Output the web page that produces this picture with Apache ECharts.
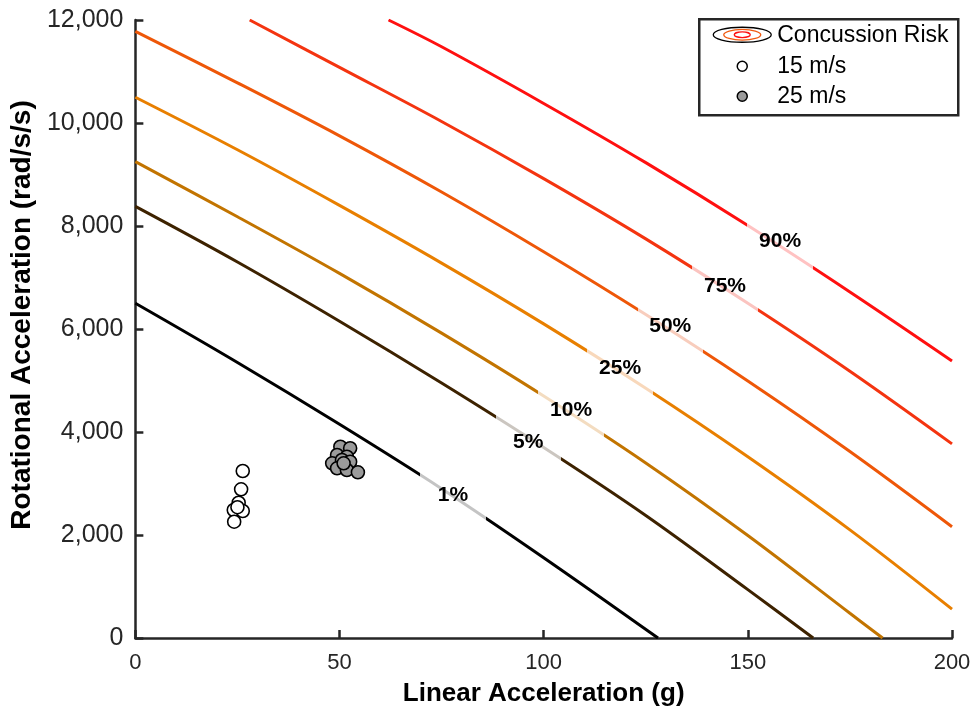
<!DOCTYPE html>
<html>
<head>
<meta charset="utf-8">
<script src="https://cdn.jsdelivr.net/npm/echarts@6/dist/echarts.min.js"></script>
<style>
  html, body { margin: 0; padding: 0; background: #ffffff; }
  #chart { width: 976px; height: 713px; }
</style>
</head>
<body>
<div id="chart"></div>
<script>
// Iso-risk contour levels, each traced as [linear g, rotational rad/s/s] points
const riskLevels = ['1%', '5%', '10%', '25%', '50%', '75%', '90%'];

const risk1  = [[0, 6500], [25, 5350], [50, 4150], [75, 2900], [100, 1560], [128, 0]];
const risk5  = [[0, 8380], [25, 7300], [50, 6150], [75, 4950], [100, 3700], [125, 2380], [150, 940], [166, 0]];
const risk10 = [[0, 9250], [25, 8180], [50, 7080], [75, 5920], [100, 4700], [125, 3400], [150, 1990], [175, 480], [183, 0]];
const risk25 = [[0, 10500], [25, 9480], [50, 8400], [75, 7280], [100, 6100], [125, 4850], [150, 3520], [175, 2100], [200, 560]];
const risk50 = [[0, 11780], [25, 10780], [50, 9750], [75, 8660], [100, 7500], [125, 6280], [150, 4990], [175, 3620], [200, 2160]];
const risk75 = [[28, 12000], [50, 11080], [75, 10030], [100, 8920], [125, 7750], [150, 6500], [175, 5180], [200, 3770]];
const risk90 = [[62, 12000], [75, 11480], [100, 10380], [125, 9230], [150, 8010], [175, 6720], [200, 5380]];

// Where each contour's inline label sits
const labelX = [77.8, 96.2, 106.7, 118.7, 131.0, 144.4, 157.9];
const labelY = [2780, 3810, 4420, 5240, 6060, 6840, 7710];

// Measured impacts
const impacts15 = [[26.3, 3243], [25.9, 2887], [25.3, 2627], [24.1, 2485], [26.3, 2466], [25.0, 2540], [24.2, 2258]];
const impacts25 = [[50.2, 3715], [52.6, 3684], [49.4, 3553], [51.8, 3520], [48.2, 3392], [50.6, 3456],
                   [52.6, 3423], [49.4, 3295], [51.8, 3262], [54.5, 3217], [51.0, 3392]];

// Axis ticks
const xTicks = [0, 50, 100, 150, 200];
const yTicks = [0, 2000, 4000, 6000, 8000, 10000, 12000];

const curves = [risk1, risk5, risk10, risk25, risk50, risk75, risk90];
const lineColors  = ['#000000', '#3d2200', '#c27400', '#e87f00', '#ee5708', '#f43410', '#ff1010'];
const paleColors  = ['#c4c4c4', '#cbc6c0', '#f3dcc0', '#f8d8bb', '#f8cdbd', '#fbc4c0', '#ffc2c2'];
const gapHalf = 8;

const axisColor = '#262626';
const tickFont = 'Liberation Sans, Arial, sans-serif';

const series = [];
const visualMaps = [];

curves.forEach((pts, i) => {
  series.push({
    name: 'Risk ' + riskLevels[i],
    type: 'line',
    data: pts,
    smooth: 0.35,
    showSymbol: false,
    silent: true,
    z: 2,
    lineStyle: { width: 3 }
  });
  visualMaps.push({
    type: 'piecewise',
    show: false,
    seriesIndex: i,
    dimension: 0,
    pieces: [
      { lt: labelX[i] - gapHalf, color: lineColors[i] },
      { gte: labelX[i] - gapHalf, lte: labelX[i] + gapHalf, color: paleColors[i] },
      { gt: labelX[i] + gapHalf, color: lineColors[i] }
    ]
  });
});

// Contour labels, written in plain black over the pale stretch of each line
series.push({
  name: 'labels',
  type: 'scatter',
  data: labelX.map((x, i) => [x, labelY[i]]),
  symbol: 'circle',
  symbolSize: 0.01,
  silent: true,
  z: 6,
  itemStyle: { color: '#000000' },
  label: {
    show: true,
    position: 'inside',
    formatter: p => riskLevels[p.dataIndex],
    fontFamily: tickFont,
    fontWeight: 'bold',
    fontSize: 21,
    color: '#000000',
    textBorderWidth: 0,
    opacity: 1
  }
});

series.push({
  name: '15 m/s',
  type: 'scatter',
  data: impacts15,
  symbolSize: 13,
  z: 4,
  itemStyle: { color: '#ffffff', borderColor: '#000000', borderWidth: 1.6, opacity: 1 }
});
series.push({
  name: '25 m/s',
  type: 'scatter',
  data: impacts25,
  symbolSize: 13,
  z: 4,
  itemStyle: { color: '#9b9b9b', borderColor: '#000000', borderWidth: 1.6, opacity: 1 }
});

const chart = echarts.init(document.getElementById('chart'), null, { renderer: 'canvas' });

// Legend box drawn by hand so the contour icon can show nested rings
const legendLeft = 698, legendTop = 18;
const legendGraphic = {
  type: 'group',
  left: legendLeft,
  top: legendTop,
  z: 100,
  children: [
    { type: 'rect', shape: { x: 0, y: 0, width: 259, height: 96 },
      style: { fill: '#ffffff', stroke: axisColor, lineWidth: 2.5 } },
    { type: 'ellipse', shape: { cx: 43, cy: 15.5, rx: 29, ry: 7.5 },
      style: { fill: 'none', stroke: '#000000', lineWidth: 1.3 } },
    { type: 'ellipse', shape: { cx: 43, cy: 15.5, rx: 18.5, ry: 5.3 },
      style: { fill: 'none', stroke: '#f05a10', lineWidth: 1.3 } },
    { type: 'ellipse', shape: { cx: 43, cy: 15.5, rx: 8, ry: 2.8 },
      style: { fill: 'none', stroke: '#ff1010', lineWidth: 1.3 } },
    { type: 'text', x: 78, y: 16, style: { text: 'Concussion Risk', fill: '#000', font: '23px ' + tickFont, textVerticalAlign: 'middle' } },
    { type: 'circle', shape: { cx: 43, cy: 47, r: 5 }, style: { fill: '#ffffff', stroke: '#000', lineWidth: 1.5 } },
    { type: 'text', x: 78, y: 47, style: { text: '15 m/s', fill: '#000', font: '23px ' + tickFont, textVerticalAlign: 'middle' } },
    { type: 'circle', shape: { cx: 43, cy: 77, r: 5 }, style: { fill: '#9b9b9b', stroke: '#000', lineWidth: 1.5 } },
    { type: 'text', x: 78, y: 77, style: { text: '25 m/s', fill: '#000', font: '23px ' + tickFont, textVerticalAlign: 'middle' } }
  ]
};

chart.setOption({
  animation: false,
  backgroundColor: '#ffffff',
  grid: { left: 135, right: 24, top: 20, bottom: 75, containLabel: false },
  xAxis: {
    type: 'value',
    min: xTicks[0],
    max: xTicks[xTicks.length - 1],
    interval: xTicks[1] - xTicks[0],
    name: 'Linear Acceleration (g)',
    nameLocation: 'middle',
    nameGap: 43,
    nameTextStyle: { fontFamily: tickFont, fontWeight: 'bold', fontSize: 26, color: '#000' },
    axisLine: { show: true, onZero: false, lineStyle: { color: axisColor, width: 2.5 } },
    axisTick: { show: true, inside: true, length: 8, lineStyle: { color: axisColor, width: 2.5 } },
    axisLabel: { fontFamily: tickFont, fontSize: 22, color: axisColor, margin: 14 },
    splitLine: { show: false }
  },
  yAxis: {
    type: 'value',
    min: yTicks[0],
    max: yTicks[yTicks.length - 1],
    interval: yTicks[1] - yTicks[0],
    name: 'Rotational Acceleration (rad/s/s)',
    nameLocation: 'middle',
    nameGap: 97,
    nameTextStyle: { fontFamily: tickFont, fontWeight: 'bold', fontSize: 28, color: '#000', padding: [0, 0, 0, 28] },
    axisLine: { show: true, onZero: false, lineStyle: { color: axisColor, width: 2.5 } },
    axisTick: { show: true, inside: true, length: 8, lineStyle: { color: axisColor, width: 2.5 } },
    axisLabel: {
      fontFamily: tickFont, fontSize: 25, color: axisColor, margin: 12,
      formatter: v => v.toLocaleString('en-US')
    },
    splitLine: { show: false }
  },
  visualMap: visualMaps,
  series: series,
  graphic: [legendGraphic]
});
</script>
</body>
</html>
